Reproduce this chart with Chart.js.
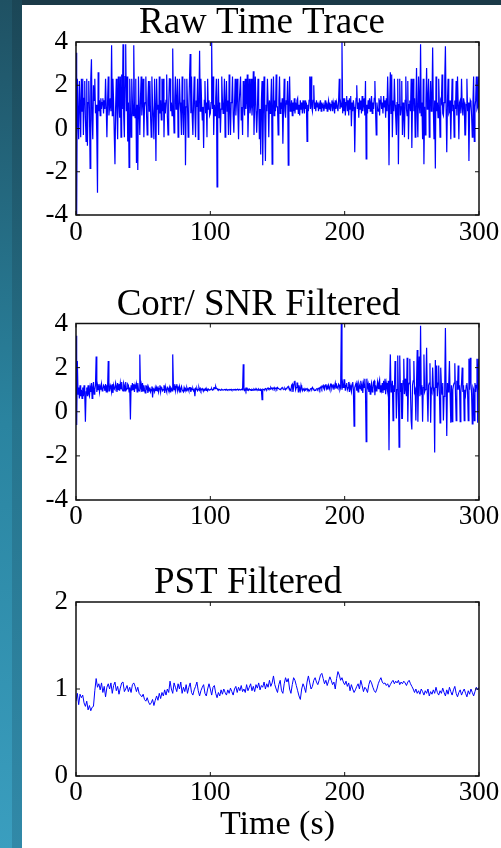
<!DOCTYPE html>
<html>
<head>
<meta charset="utf-8">
<title>Time traces</title>
<script src="https://cdn.jsdelivr.net/npm/chart.js@4.4.1/dist/chart.umd.min.js"></script>
<style>
  html, body { margin: 0; padding: 0; }
  body { width: 501px; height: 848px; position: relative; overflow: hidden; background: #1b3a48; }
  #edgeA { position: absolute; left: 0; top: 0; width: 12px; height: 848px;
           background: linear-gradient(to bottom, #1f5163 0%, #2a84a0 50%, #3a9ebf 100%); }
  #edgeB { position: absolute; left: 12px; top: 0; width: 10px; height: 848px;
           background: linear-gradient(to bottom, #1b4656 0%, #26748d 50%, #3189a8 100%); }
  #sheet { position: absolute; left: 22px; top: 5px; width: 479px; height: 843px; background: #fff; }
  canvas { position: absolute; left: 0; }
</style>
</head>
<body>
<div id="edgeA"></div>
<div id="edgeB"></div>
<div id="sheet"></div>
<canvas id="rawChart" width="505" height="250" style="top:0px"></canvas>
<canvas id="corrChart" width="505" height="250" style="top:280px"></canvas>
<canvas id="pstChart" width="505" height="288" style="top:560px"></canvas>
<script>
// raw and corr traces: two samples per second, 0..300 s (one row = 5 s)
const TRACE_DT = 0.5;
const rawTrace = [
  3.5, -4.0, 2.3, 0.6, -0.5, 2.2, 1.1, -0.4, 2.3, 0.8,
  2.3, -0.3, 1.4, 2.2, 0.5, -0.6, 2.3, -0.8, 1.2, 2.2,
  0.9, -1.85, 2.3, 3.2, 0.4, -0.5, 2.0, 1.3, 2.3, 0.7,
  1.1, -0.4, -2.97, 2.6, 0.8, 1.3, 0.6, 1.4, 0.9, 1.2,
  1.4, 0.7, 1.3, 0.9, 2.3, 1.0, -0.4, 1.2, 2.4, 0.6,
  1.0, 1.4, 0.8, 3.85, 0.6, 2.3, 1.2, -0.3, -1.65, 1.0,
  2.3, 0.7, -0.5, 2.4, 1.3, 0.5, 2.4, -0.4, 2.5, 0.9,
  3.9, 0.6, -0.4, 2.4, 3.9, 0.8, 2.4, -0.6, 1.2, -1.8,
  2.3, 0.9, -0.4, 2.3, 1.2, 0.6, 3.85, 1.0, 0.5, 2.3,
  -1.6, 1.1, -1.92, 2.4, 0.9, -0.3, 1.4, 2.4, 0.6, 1.2,
  2.3, -0.4, 1.0, 1.2, 2.4, 0.7, -0.3, 1.3, 2.2, 0.8,
  2.2, 0.6, -0.4, 2.4, 1.1, 0.5, -0.5, 2.3, 1.0, -1.5,
  2.3, 0.9, 1.1, -0.3, 2.4, 0.7, 1.3, 0.4, 2.3, 0.8,
  2.3, -0.4, 1.2, 0.7, 1.3, 2.5, 0.6, -0.3, 1.1, 2.3,
  2.3, 0.8, 1.2, 0.6, 3.7, 1.0, -0.2, 1.3, 2.4, 0.9,
  1.0, 2.3, -0.4, 0.8, 2.3, 1.2, 0.7, -0.3, 2.4, 1.0,
  -0.3, 1.3, 2.3, -1.7, 1.0, 2.3, 1.1, -0.4, 0.9, 2.3,
  3.45, 0.7, 2.4, 0.6, -0.3, 1.2, 2.4, 0.8, -0.4, 1.3,
  1.0, 2.3, -0.5, 1.1, 3.6, 0.8, 2.3, 1.2, 0.4, 1.0,
  -0.9, 1.3, 2.2, 0.7, 1.2, -0.4, 2.3, 0.9, 1.3, 0.6,
  0.7, 1.2, 4.0, 0.9, 2.4, -0.3, 1.1, 0.6, 1.4, 2.3,
  -2.7, 1.0, 2.3, 0.5, 1.2, -0.2, 0.9, 2.4, 1.3, 0.7,
  1.1, 2.3, -0.4, 1.2, 2.2, 0.8, 1.3, -0.3, 2.5, 0.9,
  -0.3, 1.2, 1.3, 2.4, 0.6, -0.2, 1.1, 2.3, 0.6, 1.3,
  2.3, 0.8, -0.5, 1.2, 1.2, 2.4, 0.4, 1.0, -0.3, 2.2,
  1.2, 0.6, 2.3, 0.9, 1.3, 2.5, -0.4, 1.0, 2.3, 0.7,
  1.0, 2.3, 0.6, 1.2, 2.65, -0.3, 1.1, 2.4, 0.8, -0.2,
  0.7, 2.3, 1.2, -0.5, 0.9, -1.2, 1.3, 2.2, -1.7, 0.8,
  2.4, 0.6, -1.5, 1.1, 0.8, 2.3, 1.2, -0.4, 1.3, 0.7,
  1.2, 2.3, -1.65, 0.9, 2.4, 0.6, 1.3, 0.8, 2.5, 1.0,
  1.0, -0.3, 1.3, 2.4, 0.7, 1.2, 0.9, 1.4, -0.7, 1.0,
  2.3, 0.8, 0.5, 1.3, 1.1, 2.2, -1.7, 1.2, 2.4, 0.8,
  0.9, 1.3, 0.6, 1.2, 0.8, 1.4, 0.7, 1.2, 0.9, 1.3,
  1.4, 0.7, 1.1, 0.6, 1.3, 0.9, 1.2, 0.7, 1.3, 1.0,
  0.7, 1.3, 0.9, 1.2, -0.6, 1.1, 0.8, 1.3, 2.4, 0.9,
  2.4, 1.0, 0.8, 1.3, 2.0, 0.9, 1.2, 0.8, 1.3, 1.0,
  1.2, 0.8, 1.1, 0.9, 1.3, 0.8, 1.2, 1.0, 1.1, 0.8,
  1.0, 1.3, 0.9, 1.2, 0.8, 1.1, 1.3, 0.9, 1.2, 0.8,
  1.1, 1.3, 0.8, 1.2, 1.0, 0.7, 1.3, 0.9, 1.2, 1.0,
  0.8, 1.3, 2.3, 0.9, 1.2, 1.0, 4.0, 0.7, 1.4, 0.8,
  1.4, 0.6, 1.2, 1.5, 0.8, 1.3, 0.6, 1.4, 0.9, 1.5,
  0.1, 1.2, 0.8, 1.3, 1.0, -1.1, 0.7, 1.4, 2.0, 0.9,
  1.2, 0.5, 1.4, 0.9, 1.3, 0.7, 1.5, 0.8, 1.1, 1.4,
  0.6, 2.2, -1.4, 1.1, 0.7, 1.3, 0.9, 1.4, 0.8, 1.2,
  1.5, 0.7, 1.2, 0.9, 1.4, 2.2, 0.8, -0.3, 1.2, 0.9,
  0.8, 1.4, 0.6, 1.3, 1.5, 0.9, 1.2, 0.7, 1.5, 1.0,
  1.3, 0.5, 1.4, 0.8, 2.4, 1.1, -1.7, 1.2, 2.6, 0.7,
  2.5, -0.4, 1.3, 0.8, 2.3, 1.1, 0.5, -0.3, 1.2, 2.3,
  -1.65, 1.1, 2.3, 0.6, 1.0, 2.2, -0.3, 1.2, 0.7, -0.4,
  1.3, 2.4, 0.9, 0.6, 2.2, -0.5, 1.1, 1.3, 0.8, 2.3,
  -0.9, 1.2, 2.3, 0.8, 1.4, -0.4, 1.0, 2.8, 0.6, -0.4,
  2.4, 1.1, 0.7, 3.9, 0.6, 1.2, -0.5, 2.3, -1.65, 1.0,
  -0.3, 1.3, 2.8, 0.9, 1.2, 2.3, -0.4, 1.1, 2.2, 0.8,
  1.3, 3.75, 0.9, -0.5, 1.3, -1.85, 2.4, 0.8, 1.2, 0.5,
  2.3, 1.0, -0.4, 1.3, 1.2, 2.5, 0.7, 0.6, 1.2, 2.3,
  3.8, 0.9, -1.1, 1.2, 2.3, 0.7, 0.8, 1.3, -0.5, 1.0,
  2.3, 0.8, 1.1, -0.4, 1.3, 0.9, 2.2, 0.6, 2.4, 1.1,
  -0.5, 1.2, 1.3, 0.7, 2.3, 1.0, 0.6, 1.4, 1.2, -0.3,
  -0.3, 1.1, 2.3, 0.8, 1.2, -1.5, 0.8, 1.3, 1.2, 0.6,
  -0.4, 1.2, 2.4, -0.6, 1.0, 1.3, 2.4, 0.9, 1.0, 2.4,
  0.7
];

const corrTrace = [
  3.45, -0.6, 2.3, 0.8, 1.1, 0.6, 1.2, 0.7, 1.0, 0.6,
  1.1, 0.7, 1.2, 0.8, -0.45, 0.9, 1.1, 0.7, 1.2, 0.8,
  0.7, 1.1, 0.9, 1.3, 0.6, 1.1, 1.35, 0.8, 1.0, 1.2,
  2.5, 0.9, 1.2, 1.0, 1.25, 0.9, 1.15, 1.0, 1.25, 0.95,
  1.0, 1.2, 1.15, 0.95, 1.25, 0.9, 1.2, 1.05, 2.3, 0.95,
  0.95, 1.2, 1.1, 0.9, 1.25, 0.85, 1.2, 1.05, 1.0, 1.3,
  1.15, 0.9, 1.3, 1.0, 1.25, 0.95, 1.3, 1.05, 1.35, 1.0,
  0.95, 1.3, 1.2, 0.95, 1.35, 1.0, 1.05, 1.25, 1.2, 0.9,
  1.1, -0.35, 1.2, 0.95, 1.3, 1.0, 1.25, 0.9, 1.2, 1.05,
  1.25, 0.9, 1.3, 1.0, 0.95, 2.6, 1.1, 1.25, 0.9, 1.3,
  0.95, 1.2, 1.0, 0.85, 1.2, 1.05, 1.15, 0.85, 1.1, 0.95,
  1.1, 0.9, 1.0, 1.15, 0.65, 1.05, 1.0, 0.9, 1.1, 0.95,
  1.1, 0.95, 1.15, 0.9, 1.05, 1.2, 0.9, 1.1, 1.05, 0.95,
  1.0, 1.2, 0.85, 1.15, 1.0, 0.9, 1.1, 1.05, 0.95, 1.1,
  0.9, 1.1, 1.05, 0.95, 2.6, 1.2, 1.0, 1.25, 0.95, 1.15,
  1.25, 0.95, 1.1, 1.0, 1.15, 0.9, 1.05, 1.15, 1.0, 0.95,
  0.9, 1.1, 1.0, 1.05, 0.95, 1.1, 1.0, 1.05, 0.95, 1.1,
  1.1, 0.9, 1.05, 1.0, 1.05, 0.95, 1.0, 0.7, 1.05, 1.0,
  1.05, 0.95, 1.0, 1.1, 0.98, 1.05, 0.95, 1.02, 1.05, 0.97,
  0.95, 1.02, 1.0, 1.05, 0.97, 1.02, 0.95, 1.03, 1.0, 0.98,
  1.0, 1.03, 1.05, 0.98, 1.0, 1.08, 1.1, 1.05, 1.15, 1.06,
  1.05, 1.0, 0.98, 1.02, 1.0, 0.97, 0.99, 1.02, 1.0, 0.98,
  0.98, 1.0, 1.01, 0.99, 1.02, 1.0, 0.98, 1.0, 1.01, 0.99,
  1.0, 1.02, 0.98, 1.0, 1.01, 0.99, 1.0, 1.02, 0.99, 1.0,
  1.0, 1.01, 0.98, 1.02, 1.0, 0.99, 1.0, 1.02, 1.0, 2.15,
  1.0, 0.96, 1.04, 0.95, 1.05, 0.98, 1.02, 0.97, 1.03, 1.0,
  1.0, 0.97, 1.02, 1.0, 0.98, 1.03, 1.0, 0.99, 1.05, 1.0,
  1.0, 0.98, 1.03, 1.0, 0.97, 1.02, 1.0, 0.55, 1.02, 1.0,
  1.02, 1.0, 1.05, 1.03, 1.0, 1.06, 1.08, 1.03, 1.05, 1.02,
  1.1, 1.05, 1.08, 1.03, 1.06, 1.1, 1.02, 1.05, 1.08, 1.03,
  1.1, 1.06, 1.05, 1.02, 1.0, 1.04, 1.06, 1.1, 1.05, 1.02,
  1.02, 1.06, 1.0, 1.05, 1.08, 1.12, 1.15, 1.06, 1.05, 0.98,
  0.95, 1.2, 1.25, 0.9, 1.1, 1.35, 1.4, 1.0, 1.1, 1.3,
  1.3, 0.9, 1.2, 1.05, 0.95, 1.2, 1.05, 0.95, 1.05, 1.0,
  0.95, 1.05, 1.0, 1.02, 1.05, 0.98, 1.0, 0.95, 0.97, 1.03,
  1.05, 1.02, 1.1, 1.05, 1.0, 0.98, 0.97, 1.0, 1.03, 1.05,
  1.0, 1.05, 1.08, 1.0, 1.1, 1.15, 1.05, 1.15, 1.2, 1.05,
  1.0, 1.2, 1.25, 1.05, 1.15, 1.0, 1.2, 1.1, 1.0, 1.25,
  1.25, 1.05, 1.15, 1.2, 1.0, 1.15, 1.3, 1.05, 1.2, 1.1,
  1.05, 1.25, 1.2, 1.0, 1.1, 4.0, 1.0, 1.3, 1.1, 1.45,
  1.45, 0.95, 1.2, 1.3, 1.0, 1.1, 1.35, 0.9, 1.2, 1.05,
  0.9, 1.25, 1.35, 1.0, -0.65, 1.1, 1.2, 1.3, 0.95, 1.2,
  0.9, 1.3, 1.2, 1.05, 1.4, 0.95, 1.2, 0.85, 1.3, 1.1,
  1.5, 0.9, -1.35, 1.5, 1.1, 1.25, 0.9, 1.3, 0.8, 1.15,
  1.3, 0.9, 1.0, 1.35, 1.4, 0.75, 1.2, 0.95, 1.1, 1.35,
  1.05, 1.3, 1.45, 0.9, 1.2, 1.0, 1.3, 0.85, 1.4, 1.0,
  1.5, 0.8, 1.3, 1.1, 0.9, 1.4, -1.75, 1.2, 2.6, 0.9,
  1.0, 1.4, -0.4, 1.2, 0.9, 2.3, 1.4, -0.3, 1.0, 2.55,
  0.8, -1.6, 2.55, 0.9, 1.3, -0.3, -0.3, 1.4, 2.4, 0.8,
  1.5, 1.0, 0.7, 2.45, -0.45, 1.2, 1.3, 2.4, 0.9, -0.4,
  -0.8, 1.2, 1.4, 2.3, 0.9, 1.0, -0.4, 1.3, 2.8, -0.45,
  1.3, 2.5, 0.7, 3.9, 0.8, 1.2, -0.45, 1.1, 2.6, 0.9,
  1.0, 1.3, 2.9, 0.8, -0.45, 1.2, 1.3, 2.2, -0.5, 1.0,
  0.9, 2.0, 1.1, 0.8, -1.85, 2.35, 1.1, 2.1, 0.7, 1.3,
  2.1, 0.9, -0.5, 2.0, 1.2, 0.8, 1.3, -0.4, 0.7, 1.2,
  3.8, 1.0, -1.1, 1.3, 0.9, 1.3, 2.3, 0.8, -0.5, 1.2,
  -0.45, 1.0, 1.2, 1.3, 2.2, 0.8, -0.4, 1.4, 1.0, 2.1,
  1.0, 1.2, -0.45, 0.9, 1.3, 2.0, 0.9, 1.2, -0.4, 1.0,
  0.8, 1.2, 1.3, 0.9, -0.4, 2.4, 1.0, 2.45, 1.3, 0.8,
  -0.55, 1.1, 1.0, -0.4, 1.3, 0.9, 1.2, 2.4, -0.5, 2.4,
  1.0
];

// PST filtered trace: one sample per second
const PST_DT = 1;
const pstTrace = [
  0.86, 0.95, 0.82, 0.94, 0.9, 0.93, 0.84, 0.8, 0.86, 0.76,
  0.81, 0.75, 0.79, 0.8, 0.98, 1.12, 1.02, 1.06, 0.99, 1.07,
  0.96, 1.03, 0.91, 1.02, 1.06, 1.0, 1.07, 0.95, 1.04, 1.08,
  0.98, 1.03, 0.94, 1.01, 1.07, 1.08, 0.97, 1.0, 1.04, 0.97,
  1.02, 0.96, 1.05, 1.07, 1.03, 0.97, 1.02, 0.95, 0.93, 0.91,
  0.94, 0.88, 0.86, 0.9, 0.85, 0.82, 0.84, 0.88, 0.81, 0.87,
  0.92, 0.87, 0.95, 0.89, 0.96, 0.92, 0.99, 0.93, 1.0, 0.96,
  1.09, 1.0, 0.95, 1.07, 1.02, 0.97, 1.06, 1.0, 1.08, 0.95,
  1.02, 0.97, 1.05, 0.95, 1.02, 1.07, 0.96, 0.93, 0.99, 1.03,
  1.08, 0.98, 0.92, 0.98, 1.02, 1.05, 0.95, 0.92, 1.0, 1.06,
  1.0, 0.93, 1.02, 1.04, 0.95, 0.9, 0.96, 0.92, 0.99, 0.94,
  1.0, 0.96, 0.93, 0.99, 0.95, 1.01, 0.97, 0.93, 1.0, 1.03,
  0.96, 1.02, 0.98, 1.04, 0.97, 1.0, 0.96, 1.05, 0.98, 1.02,
  1.06, 0.98, 1.03, 0.97, 1.05, 1.01, 1.07, 0.99, 1.04, 1.02,
  1.08, 1.0, 1.06, 1.02, 1.1, 1.03, 1.07, 1.15, 1.05, 1.0,
  0.96, 1.05, 1.1, 0.98, 0.95, 1.06, 1.13, 1.08, 1.12, 1.0,
  0.95, 1.05, 1.13, 1.1, 1.04, 0.98, 0.92, 0.88, 1.0, 1.06,
  1.02, 0.96, 1.08, 1.15, 1.07, 1.0, 1.03, 1.1, 1.13, 1.08,
  1.05, 1.1, 1.16, 1.18, 1.12, 1.06, 1.1, 1.04, 1.09, 1.14,
  1.1, 1.05, 1.08, 1.0, 1.12, 1.2, 1.16, 1.1, 1.13, 1.08,
  1.05, 1.09, 1.03, 1.07, 0.98, 1.05, 1.0, 0.96, 0.99, 1.03,
  1.06, 1.0, 1.1, 1.04, 0.97, 1.02, 1.0, 0.96, 1.05, 1.1,
  1.07, 1.02, 0.98, 0.96, 1.0, 1.06, 1.1, 1.13, 1.08, 1.06,
  1.07, 1.04, 1.06, 1.02, 1.05, 1.08, 1.1, 1.06, 1.09, 1.07,
  1.1, 1.05, 1.08, 1.06, 1.09, 1.07, 1.04, 1.08, 1.1, 1.06,
  1.03, 1.0, 0.96, 1.0, 0.95, 0.98, 0.94, 1.0, 0.97, 0.93,
  0.98, 0.95, 1.0, 0.92, 0.97, 0.94, 0.99, 0.95, 1.02, 0.96,
  0.93, 0.98, 0.95, 1.01, 0.96, 0.92, 0.99, 0.94, 1.02, 0.97,
  0.93, 0.99, 1.03, 0.95, 0.91, 0.96, 0.99, 0.93, 0.97, 1.0,
  0.95, 0.91, 0.98, 0.94, 1.0, 0.96, 0.92, 0.97, 1.02, 0.99,
  1.02
];

const xTicks = [0, 100, 200, 300];
const SERIF = "'Liberation Serif', 'Times New Roman', serif";

// closed box round the plot with short inward ticks on all four sides
const boxAxes = {
  id: 'boxAxes',
  afterDatasetsDraw(chart) {
    const { ctx, chartArea: a, scales: { x, y } } = chart;
    ctx.save();
    ctx.strokeStyle = '#111';
    ctx.lineWidth = 1.5;
    ctx.strokeRect(a.left, a.top, a.right - a.left, a.bottom - a.top);
    ctx.lineWidth = 1;
    ctx.beginPath();
    x.ticks.forEach(function(t) {
      const px = x.getPixelForValue(t.value);
      ctx.moveTo(px, a.top); ctx.lineTo(px, a.top + 4);
      ctx.moveTo(px, a.bottom); ctx.lineTo(px, a.bottom - 4);
    });
    y.ticks.forEach(function(t) {
      const py = y.getPixelForValue(t.value);
      ctx.moveTo(a.left, py); ctx.lineTo(a.left + 4, py);
      ctx.moveTo(a.right, py); ctx.lineTo(a.right - 4, py);
    });
    ctx.stroke();
    ctx.restore();
  }
};

function plotTrace(id, title, values, dt, p) {
  const points = values.map((v, i) => ({ x: i * dt, y: v }));
  return new Chart(document.getElementById(id), {
    type: 'line',
    data: {
      datasets: [{
        data: points,
        borderColor: '#0000ff',
        borderWidth: p.lineWidth,
        pointRadius: 0,
        tension: 0
      }]
    },
    options: {
      responsive: false,
      animation: false,
      events: [],
      layout: { padding: { left: p.padLeft, right: 26, top: 0, bottom: 0 } },
      plugins: {
        legend: { display: false },
        tooltip: { enabled: false },
        title: {
          display: true,
          text: title,
          color: '#000',
          font: { family: SERIF, size: 37, weight: 'normal', lineHeight: 1 },
          padding: { top: p.titleTop, bottom: p.titleBottom }
        }
      },
      scales: {
        x: {
          type: 'linear',
          min: 0,
          max: 300,
          afterBuildTicks: s => { s.ticks = xTicks.map(v => ({ value: v })); },
          ticks: {
            color: '#000',
            font: { family: SERIF, size: 27, lineHeight: 1 },
            padding: p.xPad,
            maxRotation: 0,
            autoSkip: false
          },
          grid: { display: false, drawTicks: false },
          border: { display: false },
          title: p.xTitle ? {
            display: true,
            text: p.xTitle,
            color: '#000',
            font: { family: SERIF, size: 34, lineHeight: 1 },
            padding: { top: 0, bottom: 6 }
          } : { display: false },
          afterFit: s => { s.height = p.xHeight; }
        },
        y: {
          min: p.yMin,
          max: p.yMax,
          ticks: {
            stepSize: p.yStep,
            color: '#000',
            font: { family: SERIF, size: 27, lineHeight: 1 },
            padding: 8
          },
          grid: { display: false, drawTicks: false },
          border: { display: false },
          afterFit: s => { s.width = 76 - p.padLeft; }
        }
      }
    },
    plugins: [boxAxes]
  });
}

plotTrace('rawChart', 'Raw Time Trace', rawTrace, TRACE_DT, {
  padLeft: 45, titleTop: 4.5, titleBottom: 0.5, xHeight: 35, xPad: 4.5,
  yMin: -4, yMax: 4, yStep: 2, lineWidth: 1.2
});
plotTrace('corrChart', 'Corr/ SNR Filtered', corrTrace, TRACE_DT, {
  padLeft: 38, titleTop: 6.5, titleBottom: 0, xHeight: 30, xPad: 3.5,
  yMin: -4, yMax: 4, yStep: 2, lineWidth: 1.2
});
plotTrace('pstChart', 'PST Filtered', pstTrace, PST_DT, {
  padLeft: 17, titleTop: 5, titleBottom: 0, xHeight: 72, xPad: 3.8,
  yMin: 0, yMax: 2, yStep: 1, lineWidth: 1, xTitle: 'Time (s)'
});
</script>
</body>
</html>
